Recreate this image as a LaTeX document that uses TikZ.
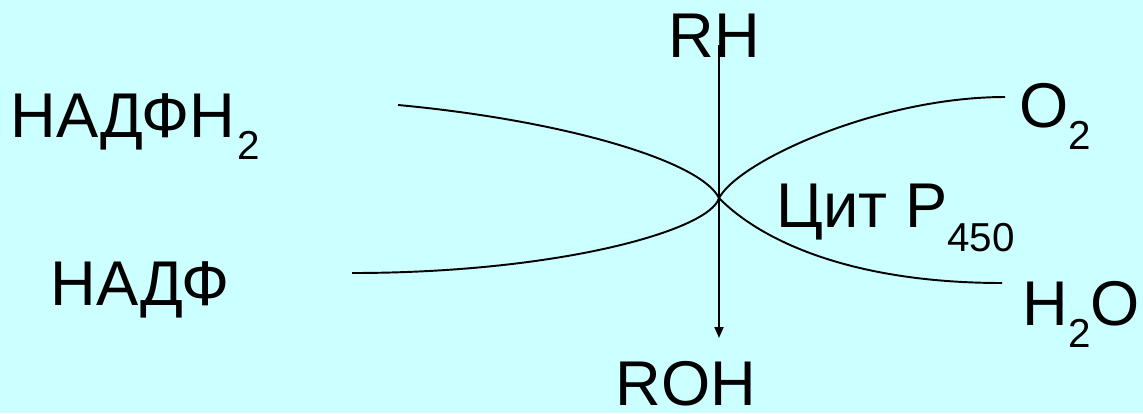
\documentclass[tikz,border=0pt]{standalone}
\usepackage{fontspec}
\setmainfont{Liberation Sans}
\usetikzlibrary{arrows.meta, positioning}
\definecolor{SlideBg}{HTML}{CCFFFF}
\newcommand{\lowsub}[2][13pt]{\raisebox{-#1}{\fontsize{23}{27}\selectfont #2}}
\tikzset{
  lbl/.style={anchor=base west, inner sep=0pt, font=\fontsize{36}{43}\selectfont},
  wire/.style={line width=1.1pt, draw=black},
  flow/.style={-{Triangle[length=0.22cm, width=0.18cm]}, line width=1.1pt, draw=black},
}

\begin{document}
\begin{tikzpicture}[x=0.02cm, y=-0.02cm]
    \fill[SlideBg] (0,0) rectangle (1143,413);
    \useasboundingbox (0,0) rectangle (1143,413);
    % substances
    \node[lbl] (nadph) at (10,137) {НАДФН\kern1pt\lowsub{2}};
    \node[lbl] (nadp) at (50,305) {НАДФ};
    \node[lbl] (rh) at (668,57) {RH};
    \node[lbl] (roh) at (615,405) {ROH};
    \node[lbl] (oxy) at (1019,127) {O\lowsub{2}};
    \node[lbl] (water) at (1022,325) {H\lowsub{2}O};
    \node[lbl] (cyt) at (776,227) {Цит Р\lowsub[14pt]{450}};
    % curve ends
    \coordinate (c) at (719,198);
    \coordinate (inA) at (398,105);
    \coordinate (outA) at (352,273);
    \coordinate (inB) at (1005,97);
    \coordinate (outB) at (1002,283);
    \coordinate (rhin) at (719,45);
    \coordinate (rohout) at (719,338);
    \draw[flow] (rhin) -- (rohout);
    \draw[wire] (inA) .. controls (560,120) and (700,160) .. (c);
    \draw[wire] (outA) .. controls (560,273) and (710,230) .. (c);
    \draw[wire] (c) .. controls (740,160) and (880,97) .. (inB);
    \draw[wire] (c) .. controls (760,240) and (850,283) .. (outB);
  \end{tikzpicture}
\end{document}
